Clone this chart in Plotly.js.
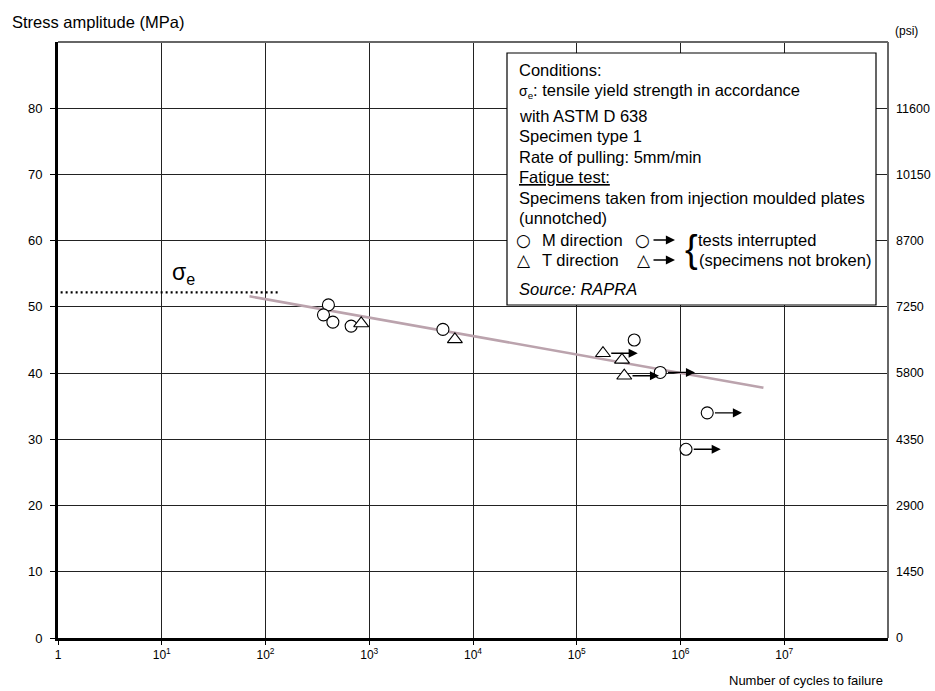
<!DOCTYPE html>
<html>
<head>
<meta charset="utf-8">
<script src="https://cdn.plot.ly/plotly-3.0.1.min.js"></script>
<style>html,body{margin:0;padding:0;background:#fff;}#chart{width:935px;height:691px;}</style>
</head>
<body>
<div id="chart"></div>
<script>
// ---- Data ----
const cycleTicks = [1, 10, 100, 1000, 10000, 100000, 1000000, 10000000];
const cycleTickText = ['1', '10<sup>1</sup>', '10<sup>2</sup>', '10<sup>3</sup>', '10<sup>4</sup>', '10<sup>5</sup>', '10<sup>6</sup>', '10<sup>7</sup>'];
const mpaTicks = [0, 10, 20, 30, 40, 50, 60, 70, 80];
const psiTicks = [0, 1450, 2900, 4350, 5800, 7250, 8700, 10150, 11600];
const psiTickText = ['0', '1450', '2900', '4350', '5800', '7250', '8700', '10150', '11600'];

// M direction (circles), broken specimens
const mCycles = [404, 362, 446, 669, 5130, 358000];
const mStress = [50.3, 48.8, 47.7, 47.1, 46.6, 45.0];
// M direction, tests interrupted
const mRunCycles = [638000, 1810000, 1130000];
const mRunStress = [40.1, 34.0, 28.5];
// T direction (triangles), broken specimens
const tCycles = [836, 6690, 273000];
const tStress = [47.5, 45.1, 42.0];
// T direction, tests interrupted
const tRunCycles = [179000, 287000];
const tRunStress = [43.0, 39.6];
// Trend line
const trendCycles = [70, 6300000];
const trendStress = [51.6, 37.8];
// Tensile yield strength sigma_e
const yieldCycles = [1.06, 132];
const yieldStress = [52.2, 52.2];

const legendLines = [
  'Conditions:',
  '<span style="font-size:14px">σ<sub>e</sub></span>: tensile yield strength in accordance',
  'with ASTM D 638',
  'Specimen type 1',
  'Rate of pulling: 5mm/min',
  '<u>Fatigue test:</u>',
  'Specimens taken from injection moulded plates',
  '(unnotched)'
];

// ---- Layout helpers (pixel -> paper) ----
const L = 58, R = 888, T = 42, B = 638;
const px = v => (v - L) / (R - L);
const py = v => (B - v) / (B - T);
const FONT = '"Liberation Sans", Arial, Helvetica, sans-serif';
const SYM = '"DejaVu Sans", sans-serif';

const traces = [
  {x: yieldCycles, y: yieldStress, mode: 'lines', line: {color: '#000', width: 2.2, dash: '2px,3px'}, hoverinfo: 'skip'},
  {x: trendCycles, y: trendStress, mode: 'lines', line: {color: '#bba3ad', width: 2.6}, hoverinfo: 'skip'},
  {x: mCycles.concat(mRunCycles), y: mStress.concat(mRunStress), mode: 'markers',
   marker: {symbol: 'circle', size: 12, color: '#fff', line: {color: '#000', width: 1.1}}},
  {x: tCycles.concat(tRunCycles), y: tStress.concat(tRunStress), mode: 'markers',
   marker: {symbol: 'triangle-up', size: 13, color: '#fff', line: {color: '#000', width: 1.1}}},
  {x: trendCycles, y: [null, null], yaxis: 'y2', mode: 'lines', hoverinfo: 'skip', showlegend: false}
];

const annotations = [];
function runoutArrow(c, s, start) {
  const lx = Math.log10(c);
  annotations.push({x: lx + 0.335, y: s, ax: lx + start, ay: s, axref: 'x', ayref: 'y', xref: 'x', yref: 'y',
    text: '', showarrow: true, arrowhead: 2, arrowsize: 1.4, arrowwidth: 1.3, arrowcolor: '#000'});
}
mRunCycles.forEach((c, i) => runoutArrow(c, mRunStress[i], 0.06));
tRunCycles.forEach((c, i) => runoutArrow(c, tRunStress[i], 0.065));

function txt(t, x, y, opts) {
  annotations.push(Object.assign({text: t, x: x, y: y, xref: 'paper', yref: 'paper', showarrow: false,
    xanchor: 'left', yanchor: 'middle', font: {family: FONT, size: 16.5, color: '#000'}}, opts || {}));
}
// Titles
txt('Stress amplitude (MPa)', px(10), py(22));
txt('Number of cycles to failure', px(885), py(680), {xanchor: 'right', font: {family: FONT, size: 13, color: '#000'}});
txt('(psi)', px(893), py(31), {font: {family: FONT, size: 12, color: '#000'}});
// sigma_e label
txt('σ<sub>e</sub>', px(170), py(273), {font: {family: FONT, size: 23, color: '#000'}});

// Legend box text
const lineY = [70, 91, 116, 136, 157, 177, 198, 218];
legendLines.forEach((t, i) => txt(t, px(517), py(lineY[i])));
txt('○', px(523), py(239.5), {xanchor: 'center', font: {family: SYM, size: 17, color: '#000'}});
txt('M direction', px(540), py(239.5));
txt('○', px(642), py(239.5), {xanchor: 'center', font: {family: SYM, size: 17, color: '#000'}});
txt('△', px(524), py(259.5), {xanchor: 'center', font: {family: SYM, size: 17, color: '#000'}});
txt('T direction', px(540), py(260));
txt('△', px(644), py(259.5), {xanchor: 'center', font: {family: SYM, size: 17, color: '#000'}});
txt('{', px(683), py(249), {font: {family: FONT, size: 38, color: '#000'}});
txt('tests interrupted', px(696), py(239.5));
txt('(specimens not broken)', px(697), py(260));
txt('<i>Source: RAPRA</i>', px(517), py(288.5));
// Legend arrows
[240, 260].forEach(yy => annotations.push({x: px(675), y: py(yy), xref: 'paper', yref: 'paper', ax: -23, ay: 0,
  text: '', showarrow: true, arrowhead: 2, arrowsize: 1.4, arrowwidth: 1.3, arrowcolor: '#000'}));

const layout = {
  width: 935, height: 691,
  margin: {l: L, r: 935 - R, t: T, b: 691 - B, pad: 0},
  paper_bgcolor: '#fff', plot_bgcolor: '#fff',
  showlegend: false,
  font: {family: FONT, color: '#000'},
  xaxis: {type: 'log', range: [0, 8], tickvals: cycleTicks, ticktext: cycleTickText,
    showgrid: true, gridcolor: '#222', gridwidth: 1, zeroline: false,
    showline: true, linecolor: '#000', linewidth: 3, ticks: 'outside', ticklen: 4, tickcolor: '#000',
    tickfont: {family: FONT, size: 12, color: '#000'}},
  yaxis: {range: [0, 90], tickvals: mpaTicks, showgrid: true, gridcolor: '#222', gridwidth: 1, zeroline: false,
    showline: true, linecolor: '#000', linewidth: 3, ticks: 'outside', ticklen: 5, tickcolor: '#000',
    ticklabelstandoff: 5, tickfont: {family: FONT, size: 13, color: '#000'}},
  yaxis2: {overlaying: 'y', side: 'right', range: [0, 13050], tickvals: psiTicks, ticktext: psiTickText, showgrid: false,
    zeroline: false, showline: false, ticks: '', ticklabelstandoff: 7,
    tickfont: {family: FONT, size: 12.5, color: '#000'}},
  shapes: [
    {type: 'line', xref: 'paper', yref: 'paper', x0: 0, x1: 1, y0: 1, y1: 1, line: {color: '#666', width: 2}},
    {type: 'line', xref: 'paper', yref: 'paper', x0: 1, x1: 1, y0: 0, y1: 1, line: {color: '#666', width: 2}},
    {type: 'rect', xref: 'paper', yref: 'paper', x0: px(507), x1: px(876), y0: py(305), y1: py(53),
     fillcolor: '#fff', line: {color: '#000', width: 1.2}, layer: 'above'}
  ],
  annotations: annotations
};

Plotly.newPlot('chart', traces, layout, {displayModeBar: false, staticPlot: true});
</script>
</body>
</html>
